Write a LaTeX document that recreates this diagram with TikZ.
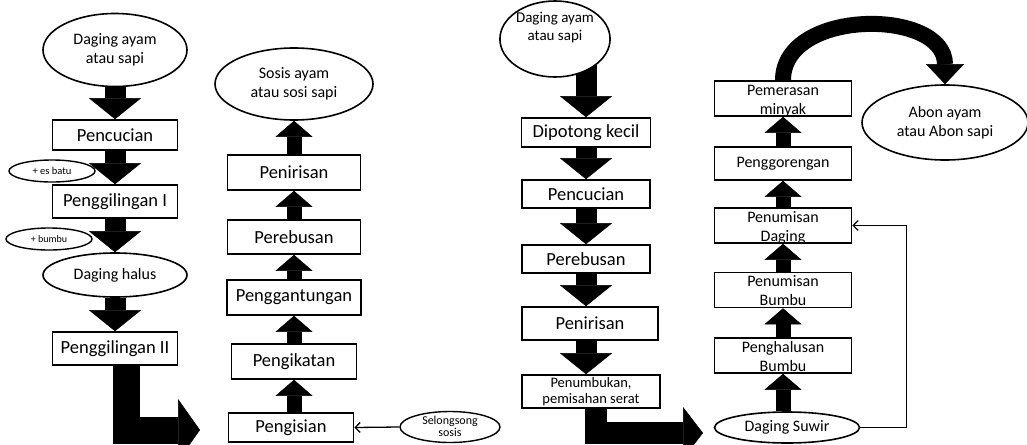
\documentclass[tikz,border=0pt]{standalone}
\usepackage{fontspec}
\setmainfont{Carlito}
\usepackage{tikz}
\usetikzlibrary{arrows.meta,shapes.geometric,backgrounds}

\tikzset{
  box/.style={draw, line width=1.6pt, fill=white, inner sep=0pt, align=center,
    minimum width=125pt, minimum height=31pt, font=\fontsize{18.5}{20}\selectfont},
  twoline/.style={box, minimum width=137pt, inner ysep=1.5pt, text height=31.5pt,
    text depth=0.5pt, font=\fontsize{16}{19}\selectfont},
  oval/.style={draw, ellipse, line width=1.6pt, fill=white, inner sep=0pt, align=center,
    font=\fontsize{16}{19}\selectfont},
  tagoval/.style={oval, line width=1.4pt, minimum width=86pt, minimum height=22pt},
  dnarrow/.style={line width=21pt, -{Triangle[length=21pt, width=52pt, line width=0.5pt]}},
  uparrow/.style={line width=15pt, -{Triangle[length=16pt, width=37pt, line width=0.5pt]}},
  elbow/.style={line width=27pt, -{Triangle[length=22pt, width=62pt, line width=0.5pt]}},
  swing/.style={line width=16pt, -{Triangle[length=20pt, width=38pt, line width=0.5pt]}},
  feed/.style={line width=1.3pt, -{Straight Barb[length=5pt, width=10pt]}}
}

\begin{document}
\begin{tikzpicture}[x=1pt, y=-1pt]
\useasboundingbox (0,0) rectangle (1027,444);

% sosis
\node[oval, minimum width=144pt, minimum height=73pt] (a0) at (115,50) {Daging ayam\\atau sapi};
\node[box, minimum height=30pt] (a1) at (115,135) {Pencucian};
\node[box, minimum height=33pt] (a2) at (115,201.5) {Penggilingan I};
\node[oval, minimum width=144pt, minimum height=44pt] (a3) at (115,275) {Daging halus};
\node[box, minimum height=33pt] (a4) at (115,348.5) {Penggilingan II};
\node[tagoval, font=\fontsize{10.5}{12}\selectfont] (esbatu) at (52,171) {+ es batu};
\node[tagoval, font=\fontsize{10}{12}\selectfont] (bumbu) at (49,239) {+ bumbu};
\coordinate (tipA) at (200,430);

\node[box, minimum height=29pt] (b1) at (291,427.5) {Pengisian};
\node[box, minimum height=35pt] (b2) at (294,361.5) {Pengikatan};
\node[box, minimum width=134pt, minimum height=35pt] (b3) at (294,297.5) {Penggantungan};
\node[box, minimum width=133pt, minimum height=34pt] (b4) at (294,237) {Perebusan};
\node[box, minimum width=133pt, minimum height=35pt] (b5) at (294,172.5) {Penirisan};
\node[oval, minimum width=158pt, minimum height=72pt] (b6) at (294,84) {Sosis ayam\\atau sosi sapi};
\node[oval, line width=1.4pt, minimum width=100pt, minimum height=31pt, text height=20pt,
  text depth=1pt, font=\fontsize{12}{12.5}\selectfont] (sel) at (450,427) {Selongsong\\sosis};

% abon
\node[oval, minimum width=106pt, minimum height=76pt, text height=14pt, text depth=10pt,
  font=\fontsize{15}{18}\selectfont] (c0) at (555,39) {Daging ayam\\atau sapi};
\node[box, minimum width=129pt, minimum height=29pt] (c1) at (586,132.5) {Dipotong kecil};
\node[box, minimum width=128pt, minimum height=28pt] (c2) at (586,194) {Pencucian};
\node[box, minimum width=128pt, minimum height=28pt] (c3) at (586,259) {Perebusan};
\node[box, minimum width=136pt, minimum height=33pt] (c4) at (590,323.5) {Penirisan};
\node[box, minimum width=138pt, minimum height=33pt, font=\fontsize{14.5}{16.5}\selectfont] (c5) at (591,391.5) {Penumbukan,\\pemisahan serat};
\coordinate (tipC) at (703,433);

\node[oval, minimum width=145pt, minimum height=31pt] (d0) at (787,427.5) {Daging Suwir};
\node[twoline] (d1) at (783,355.5) {Penghalusan\\Bumbu};
\node[twoline] (d2) at (783,290) {Penumisan\\Bumbu};
\node[twoline] (d3) at (783,225.5) {Penumisan\\Daging};
\node[box, minimum width=137pt, minimum height=33pt, font=\fontsize{16}{18}\selectfont] (d4) at (783,163.5) {Penggorengan};
\node[twoline] (d5) at (783,98.5) {Pemerasan\\minyak};
\node[oval, minimum width=166pt, minimum height=75pt] (d6) at (945,122.5) {Abon ayam\\atau Abon sapi};

\begin{scope}[on background layer]
\fill[white] (0,0) rectangle (1027,444);
\draw[dnarrow] (a0) -- (a1);
\draw[dnarrow] (a1) -- (a2);
\draw[dnarrow] (a2) -- (a3);
\draw[dnarrow] (a3) -- (a4);
\draw[elbow] ([xshift=11pt]a4.south) |- (tipA);

\draw[uparrow] (b2 |- b1.north) -- (b2);
\draw[uparrow] (b2) -- (b3);
\draw[uparrow] (b3) -- (b4);
\draw[uparrow] (b4) -- (b5);
\draw[uparrow] (b5) -- (b6);

\draw[dnarrow] (c1 |- c0.center) -- (c1);
\draw[dnarrow] (c1) -- (c2);
\draw[dnarrow] (c2) -- (c3);
\draw[dnarrow] (c3) -- (c3 |- c4.north);
\draw[dnarrow] (c4.south -| c3) -- (c3 |- c5.north);
\draw[elbow, line width=22pt, -{Triangle[length=20pt, width=52pt, line width=0.5pt]}] ([xshift=5pt]c5.south) |- (tipC);

\draw[uparrow] (d1 |- d0.north) -- (d1);
\draw[uparrow] (d1) -- (d2);
\draw[uparrow] (d2) -- (d3);
\draw[uparrow] (d3) -- (d4);
\draw[uparrow] (d4) -- (d5);
\draw[swing] (d5.north) .. controls (783,8) and (945,8) .. (d6.north);
\end{scope}

\draw[feed] (sel.west) -- (b1.east);
\draw[feed] (d0.east) -- ++(46,0) |- (d3.east);
\end{tikzpicture}
\end{document}
